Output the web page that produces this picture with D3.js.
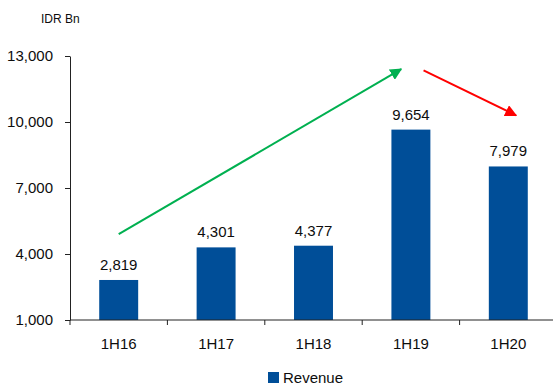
<!DOCTYPE html>
<html>
<head>
<meta charset="utf-8">
<script src="https://cdn.jsdelivr.net/npm/d3@7"></script>
<style>
  html, body { margin: 0; padding: 0; background: #fff; }
  svg { display: block; font-family: "Liberation Sans", Arial, sans-serif; }
</style>
</head>
<body>
<svg id="chart" width="553" height="389"></svg>
<script>
// Half-year revenue, IDR billions
const categories = ["1H16", "1H17", "1H18", "1H19", "1H20"];
const revenue = [2819, 4301, 4377, 9654, 7979];
const yTicks = [1000, 4000, 7000, 10000, 13000];

// Trend arrows in data terms: category, offset within band (fraction of band), value
const trendUp = [
  { cat: "1H16", off: 0.0, value: 4900 },
  { cat: "1H19", off: -0.1, value: 12400 }
];
const trendDown = [
  { cat: "1H19", off: 0.13, value: 12350 },
  { cat: "1H20", off: 0.08, value: 10300 }
];

const svg = d3.select("#chart");
const fmt = d3.format(",");
const barColor = "#004e98";
const textColor = "#0d0d0d";

const x = d3.scaleBand().domain(categories).range([70, 557]).paddingInner(0.6).paddingOuter(0.3);
const y = d3.scaleLinear().domain([1000, 13000]).range([320, 56]);

// Arrowhead markers
const defs = svg.append("defs");
[["up", "#00b050"], ["down", "#ff0000"]].forEach(([id, c]) => {
  defs.append("marker")
    .attr("id", "arrow-" + id)
    .attr("viewBox", "0 0 10 10")
    .attr("refX", 9).attr("refY", 5)
    .attr("markerWidth", 6).attr("markerHeight", 6)
    .attr("markerUnits", "strokeWidth")
    .attr("orient", "auto")
    .append("path").attr("d", "M0,0 L10,5 L0,10 Z").attr("fill", c);
});

// Bars
svg.append("g").selectAll("rect")
  .data(categories)
  .join("rect")
  .attr("x", d => x(d))
  .attr("width", x.bandwidth())
  .attr("y", (d, i) => y(revenue[i]))
  .attr("height", (d, i) => y(1000) - y(revenue[i]))
  .attr("fill", barColor);

// Value labels
svg.append("g").selectAll("text")
  .data(categories)
  .join("text")
  .attr("x", d => x(d) + x.bandwidth() / 2)
  .attr("y", (d, i) => y(revenue[i]) - 10)
  .attr("text-anchor", "middle")
  .attr("font-size", 15)
  .attr("fill", textColor)
  .text((d, i) => fmt(revenue[i]));

// Y axis
const yAxis = svg.append("g")
  .attr("transform", "translate(70,0)")
  .call(d3.axisLeft(y).tickValues(yTicks).tickFormat(fmt).tickSize(5).tickSizeOuter(0).tickPadding(12));
yAxis.select(".domain").attr("stroke", "#222");
yAxis.selectAll(".tick line").attr("stroke", "#222");
yAxis.selectAll(".tick text").attr("font-size", 15).attr("fill", textColor).attr("font-family", "Liberation Sans, Arial, sans-serif");

// X axis with ticks at band boundaries
const xAxisG = svg.append("g").attr("transform", "translate(0,320)");
xAxisG.append("line").attr("x1", 70).attr("x2", 553).attr("stroke", "#222");
const step = x.step();
const bounds = categories.map((d, i) => x(d) + x.bandwidth() / 2 - step / 2).concat([x(categories[categories.length - 1]) + x.bandwidth() / 2 + step / 2]);
xAxisG.selectAll(".bt").data(bounds).join("line")
  .attr("x1", d => d).attr("x2", d => d).attr("y1", 0).attr("y2", 5)
  .attr("stroke", "#222");
xAxisG.selectAll("text").data(categories).join("text")
  .attr("x", d => x(d) + x.bandwidth() / 2)
  .attr("y", 29)
  .attr("text-anchor", "middle")
  .attr("font-size", 15)
  .attr("fill", textColor)
  .text(d => d);

// Unit label
svg.append("text")
  .attr("x", 41).attr("y", 23)
  .attr("font-size", 12)
  .attr("fill", textColor)
  .text("IDR Bn");

// Trend arrows
const px = p => x(p.cat) + x.bandwidth() / 2 + p.off * step;
[[trendUp, "#00b050", "up"], [trendDown, "#ff0000", "down"]].forEach(([pts, c, id]) => {
  svg.append("line")
    .attr("x1", px(pts[0])).attr("y1", y(pts[0].value))
    .attr("x2", px(pts[1])).attr("y2", y(pts[1].value))
    .attr("stroke", c).attr("stroke-width", 2)
    .attr("marker-end", `url(#arrow-${id})`);
});

// Legend
const lg = svg.append("g").attr("transform", "translate(268,372)");
lg.append("rect").attr("width", 11).attr("height", 11).attr("fill", barColor);
lg.append("text").attr("x", 15).attr("y", 11).attr("font-size", 15).attr("fill", textColor).text("Revenue");
</script>
</body>
</html>
